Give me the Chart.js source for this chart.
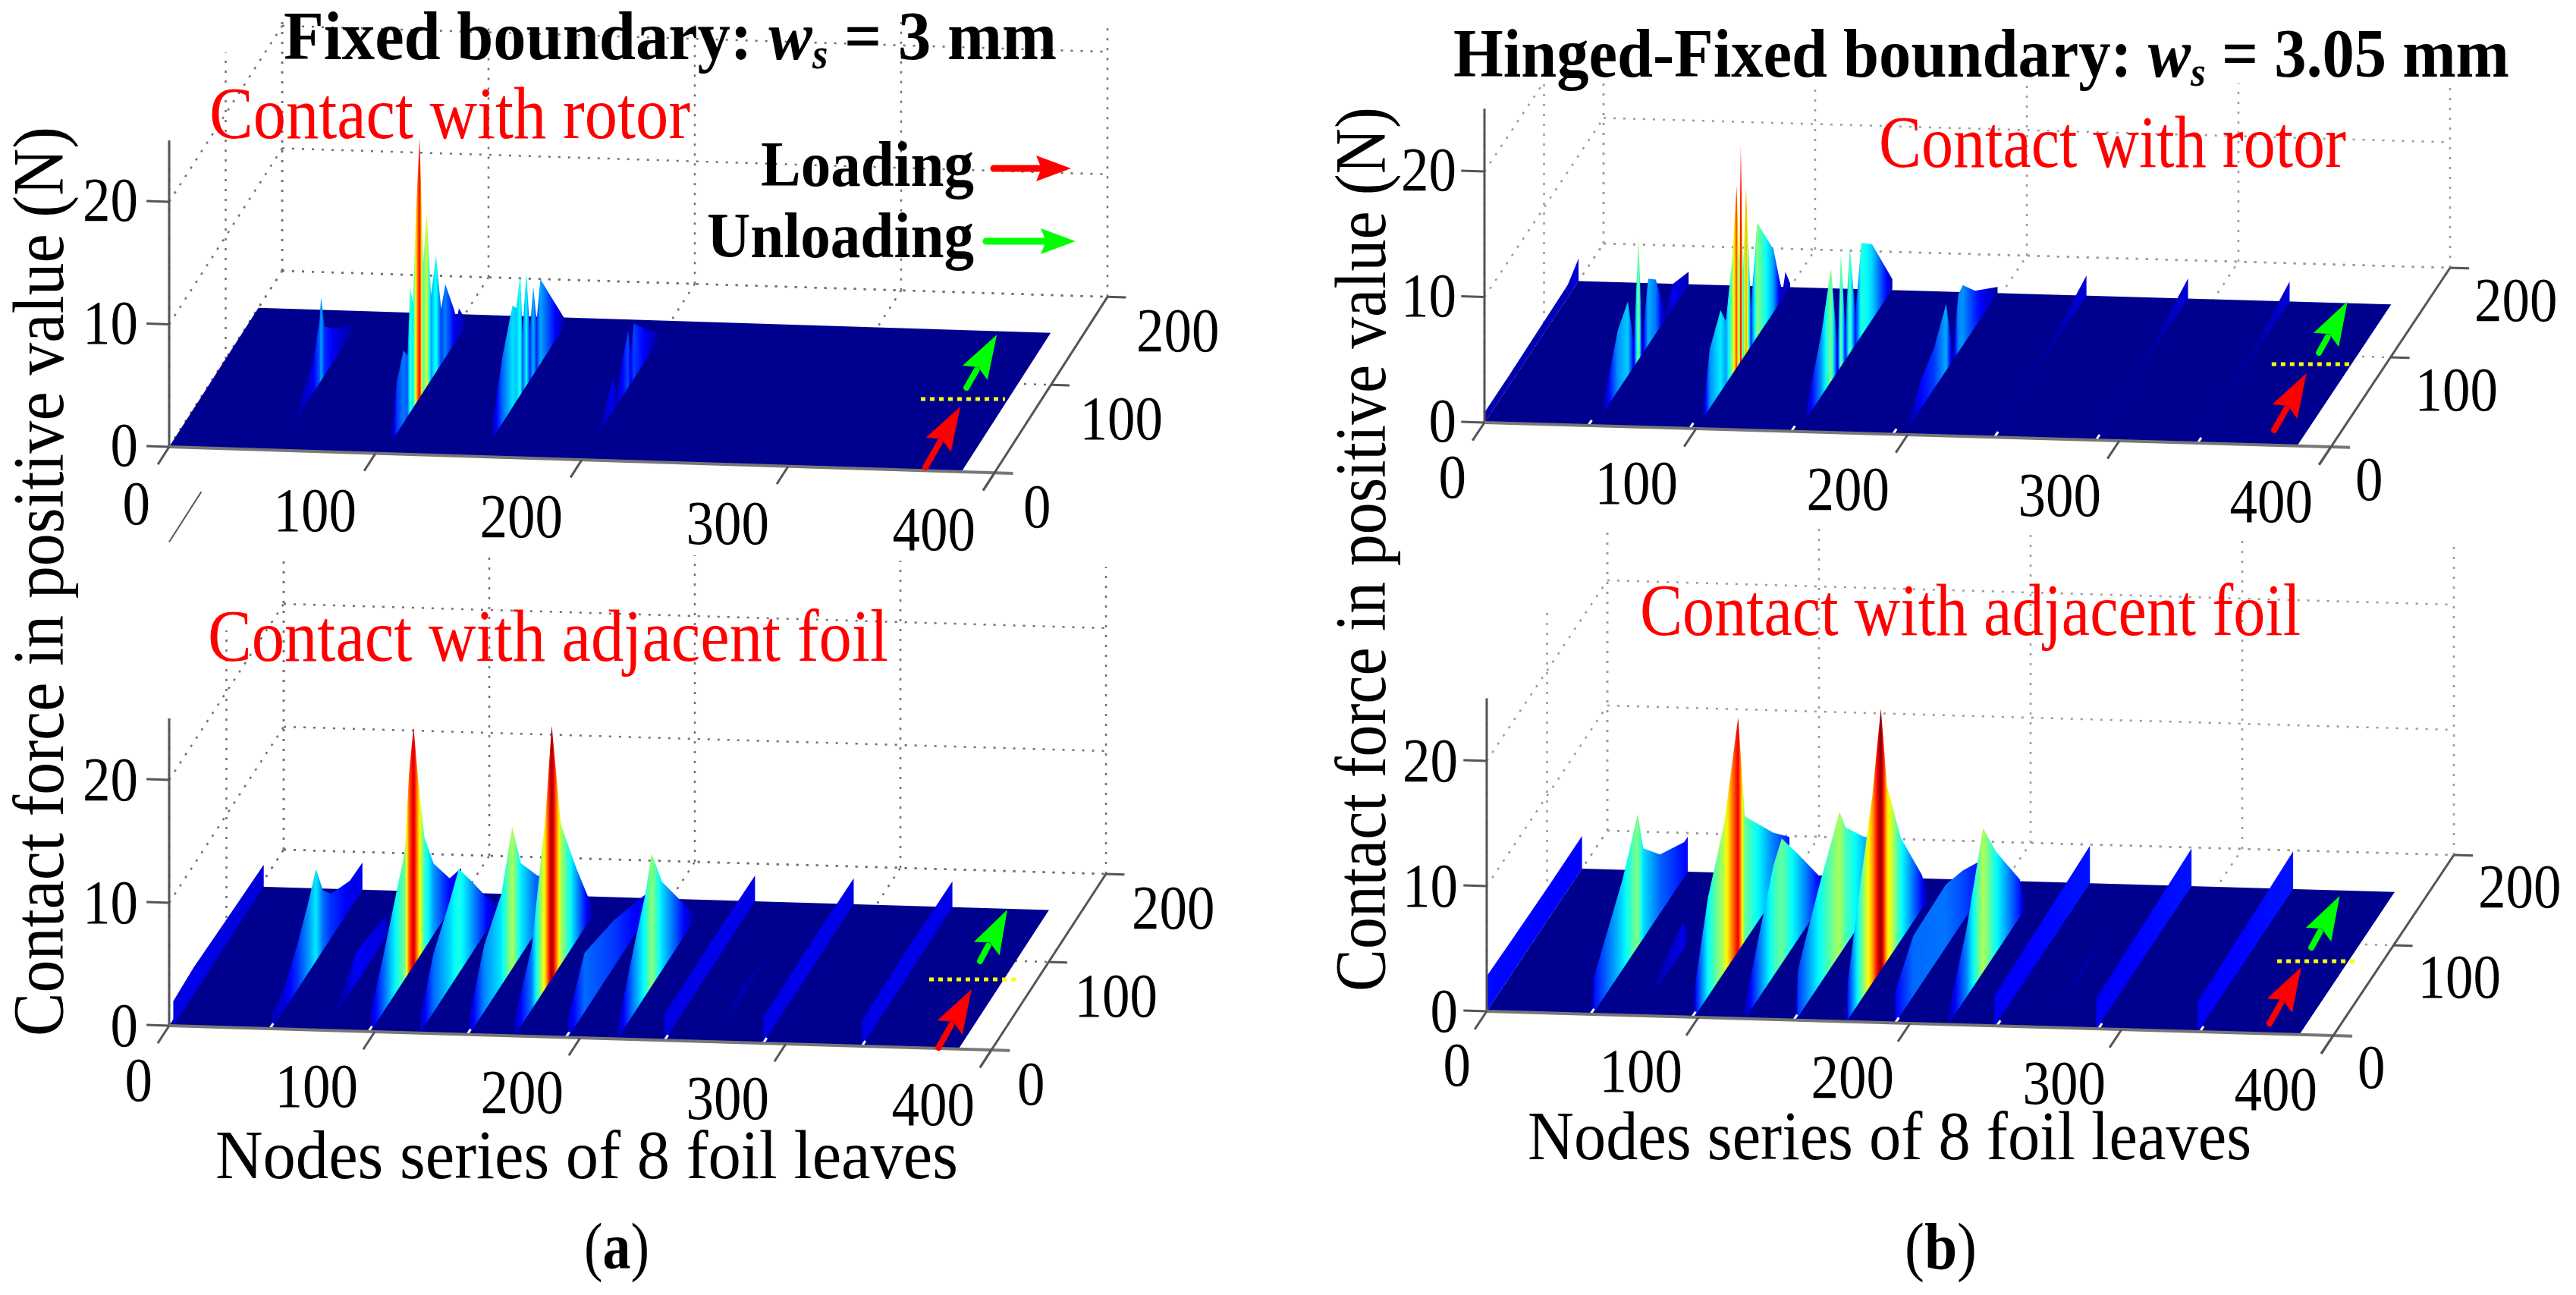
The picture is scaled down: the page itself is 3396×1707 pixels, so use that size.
<!DOCTYPE html>
<html>
<head>
<meta charset="utf-8">
<title>Contact force</title>
<script src="https://cdn.jsdelivr.net/npm/chart.js@4"></script>
<style>
  html, body { margin: 0; padding: 0; background: #fff; }
  canvas { display: block; }
</style>
</head>
<body>
<canvas id="chart" width="3396" height="1707"></canvas>
<script>
// axis ticks
const nodeTicks = [0, 100, 200, 300, 400];
const stepTicks = [0, 100, 200];
const forceTicks = [0, 10, 20];

// the meshed floor of every plot, and the nodes where a new foil leaf starts
const surfaceNodes = [0, 384];
const surfaceSteps = [0, 158];
const leafNodes = [48, 96, 144, 192, 240, 288, 336];

// Fixed boundary, contact with rotor: node of each ridge, then step / force along it
const fixedRotorNodes = [52, 104, 151, 200];
const fixedRotorSteps = [
  [25, 64, 76, 79, 85, 107, 130, 137],
  [13, 23, 35, 42, 47, 52, 57, 63.5, 70, 76, 83.6, 92.6, 101.6, 109, 125, 129, 133, 148.6],
  [16, 38.5, 56.4, 63, 70, 74, 80.8, 87, 93, 99, 105.6, 130, 152.6],
  [24, 55, 62, 82, 86, 92, 115, 134]
];
const fixedRotorForce = [
  [0, 2.4, 5, 6.8, 4, 2.2, 1, 0],
  [0, 4.2, 5.9, 5, 10.2, 8.5, 15.6, 21.2, 10.5, 14.2, 6.9, 9.5, 4.5, 6, 2.7, 1.6, 2.3, 0],
  [0, 5.4, 8.3, 7.6, 9.8, 4.9, 9.2, 4, 7.2, 4, 6.9, 3.3, 0],
  [0, 2.6, 1.2, 4.7, 2.5, 4.5, 2.4, 0.8]
];

// Fixed boundary, contact with adjacent foil
const fixedFoilNodes = [2, 50, 76, 98, 122, 146, 168, 194, 218, 241, 265, 289, 337];
const fixedFoilSteps = [
  [0, 35, 90, 158],
  [0, 22, 45, 65, 77, 89, 103, 136, 158],
  [2, 30, 55, 105, 112],
  [0, 23, 60, 67, 75, 84, 94, 110, 138, 158],
  [0, 24, 52, 68, 91, 115, 132, 158],
  [0, 26, 56, 75, 90, 120, 158],
  [0, 30, 54, 65, 81, 108, 128, 138],
  [0, 29, 80, 131, 158],
  [0, 31, 48, 60, 78, 105, 126, 135],
  [0, 80, 158],
  [10, 50, 90],
  [0, 80, 158],
  [0, 80, 158]
];
const fixedFoilForce = [
  [2, 2.2, 2, 1.8],
  [1.2, 1.8, 3.7, 5.9, 7.5, 4.9, 3.6, 2.3, 2.2],
  [0, 1, 2.5, 1.8, 0],
  [1.5, 4.7, 10.4, 16.2, 19.4, 14, 9.1, 5.8, 2.6, 2],
  [1.2, 4.8, 7, 8.5, 5.8, 2.9, 1.2, 0.5],
  [1.4, 5.4, 7.4, 11.5, 7.5, 4.3, 2.5],
  [1.2, 5.1, 13.9, 20.6, 11.4, 5.9, 2.2, 0.4],
  [1.5, 4.8, 3.8, 2.1, 1],
  [0.8, 5.7, 8.1, 10.8, 7.2, 4, 1.5, 0.5],
  [2.1, 2.2, 2.1],
  [0.3, 1, 0.4],
  [2.1, 2.2, 2.1],
  [2.1, 2.2, 2.1]
];

// Hinged-Fixed boundary, contact with rotor
const hingedRotorNodes = [0, 52, 100, 148, 198, 240, 288, 336];
const hingedRotorSteps = [
  [0, 40, 140, 158],
  [11, 39, 56, 66, 74, 80, 90, 103, 118, 132, 158],
  [10, 23, 41, 50, 61, 68, 72.6, 75, 79, 84, 92, 102.5, 130, 140, 145, 150, 158],
  [10, 40, 56, 67, 72.6, 80, 87.5, 97, 107, 125, 159],
  [3, 30, 51, 71.6, 83, 92, 99.6, 120, 158],
  [0, 100, 158],
  [0, 100, 158],
  [0, 100, 158]
];
const hingedRotorForce = [
  [0.8, 0.8, 1, 1.8],
  [0, 4.8, 5.9, 1.9, 9.6, 1, 5.3, 4.3, 0.6, 1.9, 1],
  [0, 4.7, 6.5, 5, 9.3, 14.5, 8, 17.2, 7, 13.2, 3, 9.1, 5, 1.9, 0.5, 1.8, 0.3],
  [0, 5, 9, 1.8, 9, 2.5, 8.5, 2.5, 7.4, 6, 0.8],
  [0, 2.3, 3.2, 5.3, 0.6, 4.6, 4.8, 2.9, 0.5],
  [0.3, 0.6, 1.6],
  [0.3, 0.6, 1.6],
  [0.3, 0.6, 1.6]
];

// Hinged-Fixed boundary, contact with adjacent foil
const hingedFoilNodes = [0, 50, 72, 98, 122, 146, 170, 193, 218, 240, 265, 288, 336];
const hingedFoilSteps = [
  [0, 40, 100, 158],
  [0, 2, 23, 50, 75, 84, 112, 152, 158],
  [20, 33, 73, 85],
  [0, 2, 23, 50, 73, 84, 131, 158],
  [0, 20, 47, 61, 88, 129, 140],
  [0, 4, 38, 72.6, 83, 113, 158],
  [0, 2, 22, 43, 57, 67, 90, 125, 135],
  [0, 30, 84, 112, 158],
  [0, 30, 58, 80, 119, 127],
  [0, 80, 158],
  [10, 60, 100],
  [0, 80, 158],
  [0, 80, 158]
];
const hingedFoilForce = [
  [2.8, 2.7, 2.6, 2.6],
  [1, 2.8, 4.7, 7.2, 10.6, 7.2, 4.7, 2.8, 2.8],
  [0, 1, 2.2, 0],
  [1, 2.6, 7.9, 11.9, 18.7, 10, 5.3, 3],
  [1, 4.4, 8.8, 10, 6.8, 1.8, 0.5],
  [1, 3.8, 7.8, 11.4, 9.4, 6.5, 3],
  [1, 3, 9, 15, 20.9, 14, 8.2, 2.7, 0.3],
  [2.5, 4.8, 5, 4.1, 2],
  [0.8, 5.3, 11.5, 8, 3, 0.5],
  [2.4, 2.7, 3],
  [0.3, 0.8, 0.4],
  [2.4, 2.7, 3],
  [2.4, 2.7, 3]
];

// view of each 3d box: page position of the origin and page offset per unit
const panels = [
  { org: [223, 589], n: [2.72, 0.0858], t: [0.745, -1.16], f: -16.15, cmax: 24, crop: 29, grid: '#707070', notches: false,
    nodes: fixedRotorNodes, steps: fixedRotorSteps, force: fixedRotorForce,
    load: [[365.5, 3.8], [363.6, 72.6]], unload: [[360.7, 94], [359, 154]], mark: [[342.5, 79.7], [382.5, 82.6]],
    stray: [[29, -49], [29, -106]],
    nodeLab: [-25, 102], stepLab: [38, 72], forceLab: [-41, 25] },
  { org: [223, 1352], n: [2.71, 0.08], t: [0.755, -1.16], f: -16.2, cmax: 21, crop: 732, grid: '#707070', notches: true,
    nodes: fixedFoilNodes, steps: fixedFoilSteps, force: fixedFoilForce,
    load: [[374, 0.8], [371.7, 67]], unload: [[367, 98.6], [364, 157]], mark: [[348.4, 76.6], [389.7, 79.5]],
    nodeLab: [-22, 99], stepLab: [34, 72], forceLab: [-41, 27] },
  { org: [1957, 557], n: [2.79, 0.08], t: [0.785, -1.18], f: -16.55, cmax: 18, crop: 110, grid: '#9a9a9a', notches: true,
    nodes: hingedRotorNodes, steps: hingedRotorSteps, force: hingedRotorForce,
    load: [[368.5, 16.5], [366, 79.8]], unload: [[365.4, 102.8], [362.8, 160]], mark: [[347, 88.8], [384, 91.3]],
    nodeLab: [-24, 99], stepLab: [32, 70], forceLab: [-37, 25] },
  { org: [1960, 1333], n: [2.79, 0.08], t: [0.795, -1.19], f: -16.5, cmax: 21, crop: 695, grid: '#9a9a9a', notches: true,
    nodes: hingedFoilNodes, steps: hingedFoilSteps, force: hingedFoilForce,
    load: [[366.7, 11.2], [364, 73.2]], unload: [[362.6, 95], [359.7, 152]], mark: [[351, 79], [389, 81.6]],
    nodeLab: [-21, 98], stepLab: [32, 69], forceLab: [-38, 27] }
];

function project(p, n, t, f) {
  return {
    x: p.org[0] + n * p.n[0] + t * p.t[0],
    y: p.org[1] + n * p.n[1] + t * p.t[1] + f * p.f
  };
}

function jet(v) {
  const ch = c => Math.round(255 * Math.max(0, Math.min(1, c)));
  const r = Math.min(4 * v - 1.5, 4.5 - 4 * v);
  const g = Math.min(4 * v - 0.5, 3.5 - 4 * v);
  const b = Math.min(4 * v + 0.5, 2.5 - 4 * v);
  return 'rgb(' + ch(r) + ',' + ch(g) + ',' + ch(b) + ')';
}

const datasets = [];

function addLine(points, color, width, dash, crop) {
  const ds = { data: points, showLine: true, fill: false, pointRadius: 0, borderColor: color, borderWidth: width, borderDash: dash || [] };
  if (crop) ds.clip = { left: 0, top: -crop, right: 0, bottom: 0 };
  datasets.push(ds);
}

function addWall(p, node, steps, force) {
  // along the base line, then back over the top of the ridge
  const pts = [project(p, node, steps[0], 0), project(p, node, steps[steps.length - 1], 0)];
  for (let i = steps.length - 1; i >= 0; i--) pts.push(project(p, node, steps[i], force[i]));
  datasets.push({
    data: pts, showLine: true, fill: 'shape', pointRadius: 0, borderWidth: 0,
    backgroundColor: ctx => {
      const sc = ctx.chart.scales.x;
      if (!sc) return '#0000ff';
      const x0 = sc.getPixelForValue(project(p, node, steps[0], 0).x);
      const x1 = sc.getPixelForValue(project(p, node, steps[steps.length - 1], 0).x);
      if (!Number.isFinite(x0) || !Number.isFinite(x1)) return '#0000ff';
      const g = ctx.chart.ctx.createLinearGradient(x0, 0, x1, 0);
      const span = steps[steps.length - 1] - steps[0];
      for (let i = 0; i < steps.length - 1; i++) {
        for (let k = 0; k < 8; k++) {
          const f = force[i] + (force[i + 1] - force[i]) * k / 8;
          const s = steps[i] + (steps[i + 1] - steps[i]) * k / 8;
          g.addColorStop((s - steps[0]) / span, jet(f / p.cmax));
        }
      }
      g.addColorStop(1, jet(force[force.length - 1] / p.cmax));
      return g;
    }
  });
}

panels.forEach(p => {
  const axisCol = '#555';
  // dotted box walls and floor
  nodeTicks.forEach(n => {
    addLine([project(p, n, 200, 0), project(p, n, 200, 25)], p.grid, 2.5, [3, 10], p.crop);
    addLine([project(p, n, 0, 0), project(p, n, 200, 0)], p.grid, 2.5, [3, 10], p.crop);
  });
  stepTicks.forEach(t => {
    addLine([project(p, 0, t, 0), project(p, 0, t, 25)], p.grid, 2.5, [3, 10], p.crop);
    addLine([project(p, 0, t, 0), project(p, 400, t, 0)], p.grid, 2.5, [3, 10], p.crop);
  });
  forceTicks.forEach(f => {
    addLine([project(p, 0, 200, f), project(p, 400, 200, f)], p.grid, 2.5, [3, 10], p.crop);
    addLine([project(p, 0, 0, f), project(p, 0, 200, f)], p.grid, 2.5, [3, 10], p.crop);
  });
  if (p.stray) addLine([project(p, p.stray[0][0], p.stray[0][1], 0), project(p, p.stray[1][0], p.stray[1][1], 0)], axisCol, 2);

  // floor of the surface
  datasets.push({
    data: [
      project(p, surfaceNodes[0], surfaceSteps[0], 0), project(p, surfaceNodes[1], surfaceSteps[0], 0),
      project(p, surfaceNodes[1], surfaceSteps[1], 0), project(p, surfaceNodes[0], surfaceSteps[1], 0)
    ],
    showLine: true, fill: 'shape', pointRadius: 0, borderWidth: 0, backgroundColor: '#00008f'
  });

  // ridges, left ones are hidden by the right ones
  p.nodes.forEach((n, i) => addWall(p, n, p.steps[i], p.force[i]));

  // small white gaps in the front edge where a leaf starts
  if (p.notches) leafNodes.forEach(n => addLine([project(p, n + 1, 0, 0), project(p, n + 1, 6, 0)], '#ffffff', 3));

  // solid axes and tick marks
  addLine([project(p, 0, 0, 0), project(p, 0, 0, 25)], axisCol, 3);
  addLine([project(p, 0, 0, 0), project(p, 409, 0, 0)], '#777', 4);
  addLine([project(p, 400, -20, 0), project(p, 400, 200, 0)], axisCol, 3);
  addLine([project(p, 400, 200, 0), project(p, 409, 200, 0)], axisCol, 3);
  addLine([project(p, 400, 100, 0), project(p, 409, 100, 0)], axisCol, 3);
  nodeTicks.forEach(n => addLine([project(p, n, 0, 0), project(p, n, -20, 0)], axisCol, 3));
  forceTicks.forEach(f => addLine([project(p, 0, 0, f), project(p, -11, 0, f)], axisCol, 3));

  // yellow loading / unloading divide
  addLine([project(p, p.mark[0][0], p.mark[0][1], 0), project(p, p.mark[1][0], p.mark[1][1], 0)], '#ffff00', 5, [6, 6]);
});

// later datasets go on top
datasets.forEach((d, i) => { d.order = -i; });

// fitted text: glyphs squeezed to the width
function fitText(ctx, parts, x, y, width, rotate) {
  ctx.save();
  ctx.translate(x, y);
  if (rotate) ctx.rotate(-Math.PI / 2);
  let total = 0;
  parts.forEach(s => { ctx.font = s.font; total += ctx.measureText(s.text).width; });
  ctx.scale(width / total, 1);
  let cx = 0;
  parts.forEach(s => {
    ctx.font = s.font;
    ctx.fillStyle = s.color || '#000';
    ctx.fillText(s.text, cx, s.dy || 0);
    cx += ctx.measureText(s.text).width;
  });
  ctx.restore();
}

function drawArrow(ctx, x0, y0, x1, y1, color, shaft, len, half) {
  const a = Math.atan2(y1 - y0, x1 - x0);
  ctx.save();
  ctx.translate(x0, y0);
  ctx.rotate(a);
  const d = Math.hypot(x1 - x0, y1 - y0);
  ctx.strokeStyle = color;
  ctx.fillStyle = color;
  ctx.lineWidth = shaft;
  ctx.lineCap = 'round';
  ctx.beginPath();
  ctx.moveTo(0, 0);
  ctx.lineTo(d - len + 4, 0);
  ctx.stroke();
  ctx.beginPath();
  ctx.moveTo(d, 0);
  ctx.lineTo(d - len, -half);
  ctx.lineTo(d - len * 0.85, 0);
  ctx.lineTo(d - len, half);
  ctx.closePath();
  ctx.fill();
  ctx.restore();
}

const serif = '"Liberation Serif", serif';
const titleFont = 'bold 92px ' + serif;
const labelFont = '98px ' + serif;
const axisFont = '92px ' + serif;
const yTitleFont = '96px ' + serif;

const labelsPlugin = {
  id: 'labels',
  afterDatasetsDraw(chart) {
    const ctx = chart.ctx, sx = chart.scales.x, sy = chart.scales.y;
    const px = pt => ({ x: sx.getPixelForValue(pt.x), y: sy.getPixelForValue(pt.y) });
    ctx.save();
    ctx.textBaseline = 'alphabetic';

    panels.forEach(p => {
      const tick = (txt, anchor, off, align) => {
        const q = px(anchor);
        ctx.save();
        ctx.translate(q.x + off[0], q.y + off[1]);
        ctx.scale(0.89, 1);
        ctx.font = '82px ' + serif;
        ctx.fillStyle = '#000';
        ctx.textAlign = align;
        ctx.fillText(txt, 0, 0);
        ctx.restore();
      };
      nodeTicks.forEach(n => tick(String(n), project(p, n, 0, 0), p.nodeLab, 'right'));
      stepTicks.forEach(t => tick(String(t), project(p, 400, t, 0), p.stepLab, 'left'));
      forceTicks.forEach(f => tick(String(f), project(p, 0, 0, f), p.forceLab, 'right'));

      const a = px(project(p, p.load[0][0], p.load[0][1], 0)), b = px(project(p, p.load[1][0], p.load[1][1], 0));
      drawArrow(ctx, a.x, a.y, b.x, b.y, '#ff0000', 8, 58, 19);
      const c = px(project(p, p.unload[0][0], p.unload[0][1], 0)), d = px(project(p, p.unload[1][0], p.unload[1][1], 0));
      drawArrow(ctx, c.x, c.y, d.x, d.y, '#00ff00', 8, 58, 19);
    });

    ctx.textAlign = 'left';
    // titles
    fitText(ctx, [
      { text: 'Fixed boundary: ', font: titleFont },
      { text: 'w', font: 'italic ' + titleFont },
      { text: 's', font: 'italic bold 56px ' + serif, dy: 12 },
      { text: ' = 3 mm', font: titleFont }
    ], 374, 78, 1019);
    fitText(ctx, [
      { text: 'Hinged-Fixed boundary: ', font: 'bold 90px ' + serif },
      { text: 'w', font: 'italic bold 90px ' + serif },
      { text: 's', font: 'italic bold 54px ' + serif, dy: 12 },
      { text: ' = 3.05 mm', font: 'bold 90px ' + serif }
    ], 1916, 101, 1392);

    // panel captions
    fitText(ctx, [{ text: 'Contact with rotor', font: labelFont, color: '#ff0000' }], 276, 182, 634);
    fitText(ctx, [{ text: 'Contact with adjacent foil', font: labelFont, color: '#ff0000' }], 274, 871, 897);
    fitText(ctx, [{ text: 'Contact with rotor', font: labelFont, color: '#ff0000' }], 2477, 220, 616);
    fitText(ctx, [{ text: 'Contact with adjacent foil', font: labelFont, color: '#ff0000' }], 2162, 837, 871);

    // loading key
    fitText(ctx, [{ text: 'Loading', font: 'bold 84px ' + serif }], 1003, 245, 281);
    fitText(ctx, [{ text: 'Unloading', font: 'bold 84px ' + serif }], 932, 339, 352);
    drawArrow(ctx, 1310, 222, 1412, 222, '#ff0000', 9, 46, 17);
    drawArrow(ctx, 1300, 318, 1418, 318, '#00ff00', 9, 46, 17);

    // axis titles
    fitText(ctx, [{ text: 'Contact force in positive value (N)', font: yTitleFont }], 83, 1366, 1199, true);
    fitText(ctx, [{ text: 'Contact force in positive value (N)', font: yTitleFont }], 1826, 1307, 1166, true);
    fitText(ctx, [{ text: 'Nodes series of 8 foil leaves', font: axisFont }], 284, 1553, 979);
    fitText(ctx, [{ text: 'Nodes series of 8 foil leaves', font: axisFont }], 2014, 1528, 954);

    // sub figure marks
    fitText(ctx, [
      { text: '(', font: '86px ' + serif },
      { text: 'a', font: 'bold 86px ' + serif },
      { text: ')', font: '86px ' + serif }
    ], 770, 1672, 86);
    fitText(ctx, [
      { text: '(', font: '86px ' + serif },
      { text: 'b', font: 'bold 86px ' + serif },
      { text: ')', font: '86px ' + serif }
    ], 2511, 1672, 95);
    ctx.restore();
  }
};

new Chart(document.getElementById('chart').getContext('2d'), {
  type: 'scatter',
  data: { datasets },
  plugins: [labelsPlugin],
  options: {
    responsive: false,
    animation: false,
    layout: { padding: 0 },
    plugins: { legend: { display: false }, tooltip: { enabled: false }, title: { display: false } },
    scales: {
      x: { type: 'linear', display: false, min: 0, max: 3396 },
      y: { type: 'linear', display: false, min: 0, max: 1707, reverse: true }
    }
  }
});
</script>
</body>
</html>
